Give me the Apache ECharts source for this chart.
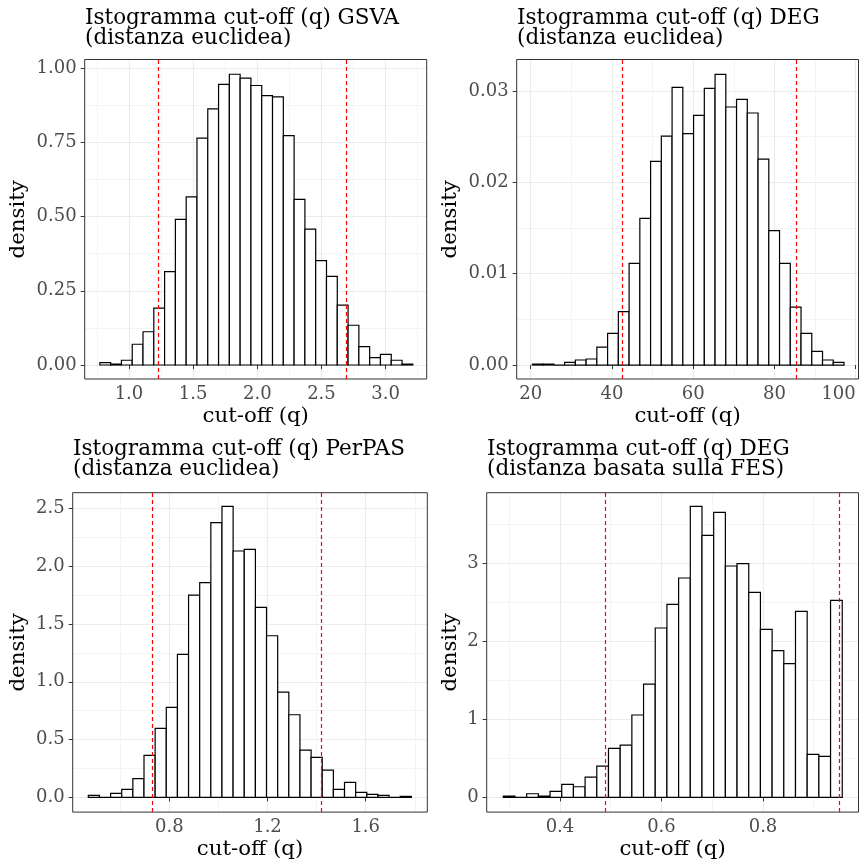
<!DOCTYPE html>
<html><head><meta charset="utf-8">
<script src="https://cdn.jsdelivr.net/npm/echarts@6/dist/echarts.min.js"></script>
<style>html,body{margin:0;padding:0;background:#fff}#c{width:867px;height:861px}</style>
</head><body><div id="c"></div>
<script>
// ---------- DATA ----------
// Panel 1: GSVA (euclidean distance)
const title1 = 'Istogramma cut-off (q) GSVA\n(distanza euclidea)';
const binStart1 = 0.773, binWidth1 = 0.0841;
const density1 = [0.008,0.003,0.016,0.070,0.112,0.192,0.315,0.491,0.567,0.765,0.863,0.946,0.980,0.967,0.942,0.908,0.904,0.773,0.558,0.458,0.352,0.299,0.202,0.134,0.062,0.025,0.036,0.016,0.003];
const cutLines1 = [1.232, 2.693];
const xTicks1 = [1.0, 1.5, 2.0, 2.5, 3.0];
const yTicks1 = [0, 0.25, 0.5, 0.75, 1.0];

// Panel 2: DEG (euclidean distance)
const title2 = 'Istogramma cut-off (q) DEG\n(distanza euclidea)';
const binStart2 = 20.41, binWidth2 = 2.645;
const density2 = [0.0001,0.0001,0,0.0003,0.00055,0.00066,0.00197,0.00347,0.00584,0.01113,0.01606,0.0223,0.02507,0.0304,0.02533,0.02734,0.03029,0.03182,0.02825,0.02909,0.02759,0.02255,0.01471,0.01113,0.00635,0.00347,0.0015,0.00055,0.0003];
const cutLines2 = [42.64, 85.3];
const xTicks2 = [20, 40, 60, 80, 100];
const yTicks2 = [0, 0.01, 0.02, 0.03];

// Panel 3: PerPAS (euclidean distance)
const title3 = 'Istogramma cut-off (q) PerPAS\n(distanza euclidea)';
const binStart3 = 0.470, binWidth3 = 0.04538;
const density3 = [0.017,0,0.035,0.069,0.162,0.363,0.597,0.779,1.237,1.750,1.857,2.376,2.517,2.131,2.145,1.644,1.398,0.911,0.715,0.409,0.346,0.236,0.069,0.130,0.043,0.026,0.017,0,0.009];
const cutLines3 = [0.729, 1.418];
const xTicks3 = [0.8, 1.2, 1.6];
const yTicks3 = [0, 0.5, 1.0, 1.5, 2.0, 2.5];

// Panel 4: DEG (FES-based distance)
const title4 = 'Istogramma cut-off (q) DEG\n(distanza basata sulla FES)';
const binStart4 = 0.2883, binWidth4 = 0.02303;
const density4 = [0.017,0,0.047,0.017,0.077,0.167,0.137,0.261,0.402,0.628,0.671,1.056,1.453,2.171,2.474,2.812,3.731,3.359,3.654,2.966,2.996,2.628,2.154,1.880,1.714,2.385,0.551,0.526,2.526];
const cutLines4 = [0.4906, 0.9517];
const xTicks4 = [0.4, 0.6, 0.8];
const yTicks4 = [0, 1, 2, 3];

const xLabel = 'cut-off (q)';
const yLabel = 'density';

// ---------- LAYOUT ----------
const FONT = 'DejaVu Serif';
const panels = [
  {title: title1, start: binStart1, width: binWidth1, dens: density1, cuts: cutLines1, xt: xTicks1, yt: yTicks1,
   grid: {left: 84.7, top: 59.5, width: 342, height: 319.5}, xr: [0.655, 3.32], yr: [-0.0472, 1.0297],
   xs: 0.5, ys: 0.25, xd: 1, yd: 2, yGap: 56, tl: 85, tt: 8.5, lastAlign: 'center'},
  {title: title2, start: binStart2, width: binWidth2, dens: density2, cuts: cutLines2, xt: xTicks2, yt: yTicks2,
   grid: {left: 516.7, top: 59.5, width: 341.8, height: 319.5}, xr: [16.55, 100.68], yr: [-0.00153, 0.03345],
   xs: 20, ys: 0.01, xd: 0, yd: 2, yGap: 56, tl: 517, tt: 8.5, lastAlign: 'right'},
  {title: title3, start: binStart3, width: binWidth3, dens: density3, cuts: cutLines3, xt: xTicks3, yt: yTicks3,
   grid: {left: 72.7, top: 492.7, width: 354.6, height: 319.4}, xr: [0.4064, 1.851], yr: [-0.127, 2.635],
   xs: 0.4, ys: 0.5, xd: 1, yd: 1, yGap: 44, tl: 73, tt: 439.5, lastAlign: 'center'},
  {title: title4, start: binStart4, width: binWidth4, dens: density4, cuts: cutLines4, xt: xTicks4, yt: yTicks4,
   grid: {left: 486.7, top: 492.7, width: 371.8, height: 319.4}, xr: [0.2556, 0.9882], yr: [-0.188, 3.905],
   xs: 0.2, ys: 1, xd: 1, yd: 0, yGap: 26, tl: 487, tt: 439.5, lastAlign: 'center'}
];

function renderBar(params, api) {
  const p0 = api.coord([api.value(0), api.value(2)]);
  const p1 = api.coord([api.value(1), 0]);
  return {type: 'rect', shape: {x: p0[0], y: p0[1], width: p1[0] - p0[0], height: p1[1] - p0[1]},
          style: {fill: '#FFFFFF', stroke: '#000000', lineWidth: 1.2}};
}

const tickLabelStyle = {color: '#4D4D4D', fontSize: 18, fontFamily: FONT};
const nameStyle = {color: '#000000', fontSize: 21.3, fontFamily: FONT};

const option = {
  animation: false,
  backgroundColor: '#FFFFFF',
  title: panels.map(p => ({text: p.title, left: p.tl, top: p.tt, padding: 0,
    textStyle: {fontFamily: FONT, fontSize: 21.5, fontWeight: 'normal', color: '#000000', lineHeight: 20}})),
  grid: panels.map(p => Object.assign({show: true, z: 5, backgroundColor: 'transparent', borderColor: '#333333', borderWidth: 1,
    containLabel: false, outerBoundsMode: 'none'}, p.grid)),
  xAxis: panels.map((p, i) => ({
    type: 'value', gridIndex: i, min: p.xr[0], max: p.xr[1], minInterval: p.xs, maxInterval: p.xs,
    axisLine: {show: false},
    axisTick: {show: true, length: 4, lineStyle: {color: '#333333', width: 1}, customValues: p.xt},
    axisLabel: Object.assign({customValues: p.xt, margin: 6, alignMaxLabel: p.lastAlign,
      formatter: v => Number(v).toFixed(p.xd)}, tickLabelStyle),
    splitLine: {show: true, lineStyle: {color: '#EBEBEB', width: 1.1}},
    minorTick: {show: false, splitNumber: 2},
    minorSplitLine: {show: true, lineStyle: {color: '#EFEFEF', width: 0.7}},
    name: xLabel, nameLocation: 'middle', nameGap: 27, nameTextStyle: nameStyle
  })),
  yAxis: panels.map((p, i) => ({
    type: 'value', gridIndex: i, min: p.yr[0], max: p.yr[1], minInterval: p.ys, maxInterval: p.ys,
    axisLine: {show: false},
    axisTick: {show: true, length: 4, lineStyle: {color: '#333333', width: 1}, customValues: p.yt},
    axisLabel: Object.assign({customValues: p.yt, margin: 8, formatter: v => Number(v).toFixed(p.yd)}, tickLabelStyle),
    splitLine: {show: true, lineStyle: {color: '#EBEBEB', width: 1.1}},
    minorTick: {show: false, splitNumber: 2},
    minorSplitLine: {show: true, lineStyle: {color: '#EFEFEF', width: 0.7}},
    name: yLabel, nameLocation: 'middle', nameGap: p.yGap, nameTextStyle: nameStyle
  })),
  series: panels.map((p, i) => ({
    type: 'custom', xAxisIndex: i, yAxisIndex: i, renderItem: renderBar,
    encode: {x: [0, 1], y: 2},
    data: p.dens.map((d, k) => [p.start + k * p.width, p.start + (k + 1) * p.width, d]),
    markLine: {silent: true, symbol: ['none', 'none'], label: {show: false}, z: 10,
      lineStyle: {color: '#FF0000', type: [4, 3], width: 1.2},
      data: p.cuts.map(c => ({xAxis: c}))}
  }))
};

const chart = echarts.init(document.getElementById('c'), null, {renderer: 'canvas'});
chart.setOption(option);
</script></body></html>
